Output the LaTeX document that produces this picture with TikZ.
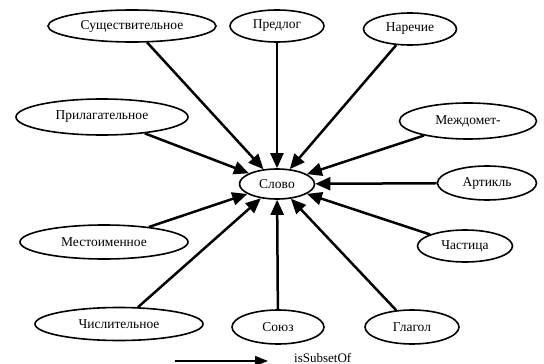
\documentclass[tikz,border=0pt]{standalone}
\usepackage{fontspec}
\setmainfont{Liberation Serif}
\usetikzlibrary{arrows.meta,shapes.geometric}

\begin{document}
\begin{tikzpicture}[
  x=1pt,y=-1pt,
  wordclass/.style={ellipse,draw,line width=1.6pt,inner sep=0pt,font=\fontsize{13.5}{15}\selectfont},
  arrow/.style={-{Triangle[length=15pt,width=13pt]},line width=2.5pt},
  legendarrow/.style={-{Triangle[length=13pt,width=10pt]},line width=1.6pt}
]
\useasboundingbox (0,0) rectangle (544,364);
\node[wordclass,minimum width=75pt,minimum height=30pt] (slovo) at (277,184) {Слово};
\node[wordclass,minimum width=168pt,minimum height=32pt] (sush) at (132,26) {Существительное};
\node[wordclass,minimum width=94pt,minimum height=32pt] (predlog) at (277,26) {Предлог};
\node[wordclass,minimum width=93pt,minimum height=32pt] (narech) at (410,29) {Наречие};
\node[wordclass,minimum width=172pt,minimum height=36pt] (prilag) at (102,117) {Прилагательное};
\node[wordclass,minimum width=137pt,minimum height=36pt] (mezhd) at (468,121) {Междомет-};
\node[wordclass,minimum width=99pt,minimum height=34pt] (artikl) at (487,183) {Артикль};
\node[wordclass,minimum width=168pt,minimum height=34pt] (mestoim) at (104,242) {Местоименное};
\node[wordclass,minimum width=95pt,minimum height=32pt] (chast) at (465,246) {Частица};
\node[wordclass,minimum width=168pt,minimum height=33pt] (chisl) at (119,324) {Числительное};
\node[wordclass,minimum width=92pt,minimum height=34pt] (soyuz) at (278,327) {Союз};
\node[wordclass,minimum width=94pt,minimum height=34pt] (glagol) at (412,327) {Глагол};
\foreach \src in {sush,predlog,narech,prilag,mezhd,artikl,mestoim,chast,chisl,soyuz,glagol}
  \draw[arrow] (\src) -- (slovo);
% legend
\coordinate (lgfrom) at (175,361);
\coordinate (lgto) at (268,361);
\draw[legendarrow] (lgfrom) -- (lgto);
\node[anchor=base west,inner sep=0pt,font=\fontsize{13}{15}\selectfont] (lglabel) at (294,362) {isSubsetOf};
\end{tikzpicture}
\end{document}
